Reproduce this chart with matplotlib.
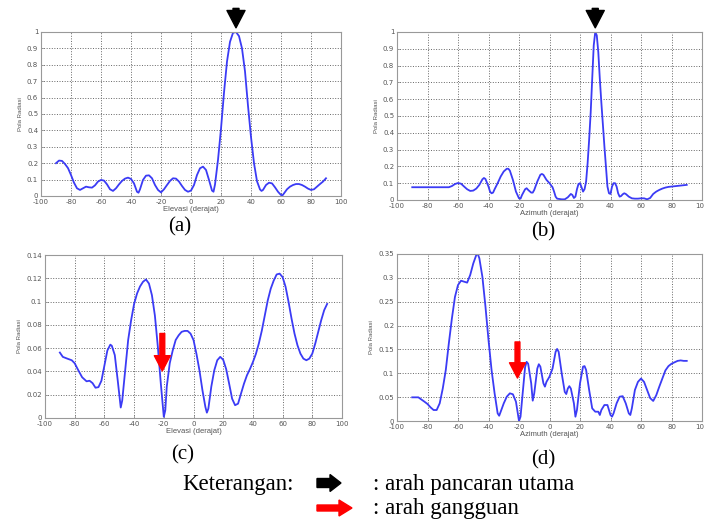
import numpy as np
import matplotlib
matplotlib.use('Agg')
import matplotlib.pyplot as plt
import matplotlib.transforms as mtransforms
from matplotlib.patches import FancyArrow

# Data (degrees, normalised pattern)
elev_a = [-90, -88, -86, -84, -82, -80, -78, -76, -74, -72, -70, -68, -66, -64, -62, -60,
          -58, -56, -54, -52, -50, -48, -46, -44, -42, -40, -38, -36, -35, -34, -32, -30,
          -28, -26, -24, -22, -20, -18, -16, -14, -12, -10, -8, -6, -4, -2, 0, 2, 4, 6,
          8, 10, 12, 14, 15, 16, 18, 20, 22, 24, 26, 28, 30, 32, 34, 36, 38, 40, 42, 44,
          46, 47, 48, 50, 52, 54, 56, 58, 60, 61, 62, 64, 66, 68, 70, 72, 74, 76, 78, 80,
          82, 84, 86, 88, 90]
pola_a = [0.200, 0.216, 0.214, 0.195, 0.170, 0.128, 0.081, 0.047, 0.037, 0.047, 0.057,
          0.053, 0.051, 0.065, 0.088, 0.098, 0.094, 0.071, 0.041, 0.031, 0.047, 0.071,
          0.092, 0.106, 0.112, 0.104, 0.077, 0.026, 0.020, 0.041, 0.098, 0.124, 0.126,
          0.108, 0.067, 0.037, 0.022, 0.041, 0.067, 0.092, 0.108, 0.106, 0.088, 0.061,
          0.037, 0.026, 0.033, 0.067, 0.128, 0.169, 0.179, 0.159, 0.098, 0.033, 0.026,
          0.070, 0.220, 0.410, 0.630, 0.820, 0.940, 0.995, 1.000, 0.975, 0.900, 0.760,
          0.550, 0.360, 0.200, 0.090, 0.040, 0.031, 0.037, 0.067, 0.081, 0.077, 0.053,
          0.026, 0.006, 0.004, 0.016, 0.041, 0.057, 0.067, 0.073, 0.073, 0.067, 0.057,
          0.045, 0.037, 0.041, 0.057, 0.073, 0.088, 0.108]

azim_b = [-90, -66, -64, -62, -60, -58, -56, -54, -52, -50, -48, -46, -44, -43, -42, -40,
          -39, -38, -37, -36, -34, -32, -30, -28, -27, -26, -24, -22, -20, -19, -18, -16,
          -15, -14, -12, -11, -10, -8, -6, -5, -4, -2, 0, 2, 3, 4, 5, 8, 10, 12, 14, 15,
          16, 17, 18, 19, 20, 21, 22, 23, 24, 25, 26, 27, 28, 29, 30, 31, 32, 33, 34, 35,
          36, 37, 38, 39, 40, 41, 42, 43, 44, 45, 46, 47, 48, 49, 50, 52, 54, 56, 58, 60,
          62, 64, 66, 68, 70, 72, 74, 76, 78, 80, 84, 88, 90]
pola_b = [0.076, 0.076, 0.083, 0.095, 0.101, 0.097, 0.080, 0.064, 0.054, 0.056, 0.068,
          0.090, 0.123, 0.131, 0.125, 0.080,
          0.050, 0.040, 0.044, 0.064, 0.100, 0.140, 0.170, 0.186, 0.186, 0.175, 0.120,
          0.050, 0.010, 0.008, 0.030, 0.064,
          0.070, 0.060, 0.044, 0.044, 0.060, 0.110, 0.150, 0.155, 0.150, 0.120, 0.100,
          0.076, 0.050, 0.020, 0.008, 0.004, 0.004, 0.016, 0.036, 0.030,
          0.012, 0.020, 0.064, 0.095, 0.100, 0.076, 0.050, 0.065, 0.110, 0.220, 0.360,
          0.520, 0.720, 0.920, 1.000, 0.980, 0.880, 0.720, 0.580, 0.450,
          0.320, 0.200, 0.080, 0.040, 0.036, 0.080, 0.100, 0.100, 0.080, 0.040, 0.020,
          0.024, 0.034, 0.040, 0.036, 0.020, 0.010, 0.008, 0.008, 0.010,
          0.010, 0.004, 0.012, 0.036, 0.050, 0.060, 0.068, 0.074, 0.078, 0.080, 0.084,
          0.088, 0.090]

elev_c = [-90, -88, -85, -82, -80, -78, -75, -72, -70, -68, -66, -64, -62, -60, -58, -56,
          -55, -53, -51, -49, -48, -46, -44, -42, -40, -38, -36, -34, -32, -30, -28, -26,
          -24, -22, -20, -19, -18, -16, -14, -12, -10, -8, -6, -4, -2, 0, 2, 4, 6, 8, 9,
          10, 12, 14, 16, 18, 20, 22, 24, 26, 28, 30, 32, 34, 36, 38, 40, 42, 44, 46, 48,
          50, 52, 54, 56, 58, 60, 62, 64, 66, 68, 70, 72, 74, 76, 78, 80, 82, 84, 86, 88,
          90]
pola_c = [0.0562, 0.0525, 0.0510, 0.0496, 0.0470, 0.0420, 0.0350, 0.0315, 0.0320, 0.0300,
          0.0260, 0.0265, 0.0320, 0.0450, 0.0580, 0.0630, 0.0620, 0.0540, 0.0320, 0.0090,
          0.0150, 0.0410, 0.0670, 0.0840, 0.0980, 0.1070, 0.1130, 0.1170, 0.1190, 0.1155,
          0.1055, 0.0880, 0.0610, 0.0295, 0.0010, 0.0066, 0.0270, 0.0470, 0.0580, 0.0670,
          0.0710, 0.0740, 0.0748, 0.0748, 0.0725, 0.0670, 0.0550, 0.0410, 0.0240, 0.0095,
          0.0046, 0.0080, 0.0270, 0.0410, 0.0496, 0.0525, 0.0500, 0.0420, 0.0295, 0.0166,
          0.0110, 0.0123, 0.0210, 0.0295, 0.0367, 0.0420, 0.0480, 0.0550, 0.0640, 0.0750,
          0.0880, 0.1010, 0.1110, 0.1180, 0.1233, 0.1240, 0.1210, 0.1127, 0.0998, 0.0855,
          0.0726, 0.0625, 0.0553, 0.0510, 0.0496, 0.0510, 0.0553, 0.0640, 0.0740, 0.0840,
          0.0926, 0.0980]

azim_d = [-90, -86, -84, -82, -80, -78, -76, -74, -72, -70, -68, -66, -64, -62, -60, -58,
          -56, -54, -52, -50, -48, -47, -46, -44, -42, -40, -38, -36, -34, -33, -32, -30,
          -28, -26, -24, -22, -20, -19, -18, -16, -15, -14, -12, -11, -10, -8, -7, -6, -4,
          -3, -2, 0, 2, 4, 5, 6, 8, 10, 11, 12, 13, 14, 16, 17, 18, 20, 22, 23, 24, 26,
          28, 30, 32, 33, 34, 36, 38, 40, 41, 42, 44, 46, 48, 50, 52, 53, 54, 56, 58, 60,
          62, 64, 66, 68, 70, 72, 74, 76, 78, 80, 84, 86, 88, 90]
pola_d = [0.0496, 0.0496, 0.045, 0.0405, 0.0356, 0.0286, 0.023, 0.023, 0.037, 0.068, 0.107,
          0.163, 0.215, 0.260, 0.285, 0.294, 0.292, 0.290, 0.306, 0.330, 0.348, 0.350,
          0.341, 0.302, 0.240, 0.170, 0.107, 0.058, 0.016, 0.011, 0.0195, 0.037, 0.051,
          0.058, 0.056, 0.0405, 0.000, 0.009, 0.044, 0.113, 0.124, 0.120, 0.079, 0.0426,
          0.058, 0.110, 0.119, 0.114, 0.079, 0.072, 0.082, 0.093, 0.110, 0.145, 0.151,
          0.145, 0.100, 0.061, 0.0565, 0.068, 0.073, 0.068, 0.037, 0.009, 0.023, 0.079,
          0.114, 0.115, 0.107, 0.065, 0.0265, 0.0195, 0.0195, 0.0126, 0.023, 0.0335,
          0.0335, 0.0126, 0.009, 0.016, 0.037, 0.051, 0.052, 0.037, 0.016, 0.0126, 0.0265,
          0.065, 0.082, 0.089, 0.082, 0.065, 0.048, 0.042, 0.054, 0.072, 0.089, 0.106,
          0.115, 0.120, 0.126, 0.127, 0.126, 0.126]

arah_gangguan = -21  # arah gangguan yang ditandai di (c) dan (d)

xticks = [-100, -80, -60, -40, -20, 0, 20, 40, 60, 80, 100]
xtick_labels = ['-100', '-80', '-60', '-40', '-20', '0', '20', '40', '60', '80', '100']

plt.rcParams['font.family'] = ['Liberation Sans', 'DejaVu Sans']

fig = plt.figure(figsize=(7.04, 5.2), dpi=100)

W, H = 704.0, 520.0


def make_ax(left, top, right, bottom):
    return fig.add_axes([left / W, 1 - bottom / H, (right - left) / W, (bottom - top) / H])


def style_ax(ax, ymax, ystep, ylabels, xlabel):
    ax.set_xlim(-100, 100)
    ax.set_ylim(0, ymax)
    ax.set_xticks(xticks)
    ax.set_xticklabels(xtick_labels)
    yt = np.arange(len(ylabels)) * ystep
    ax.set_yticks(yt)
    ax.set_yticklabels(ylabels)
    ax.grid(True, linestyle=':', color='#666666', linewidth=0.7)
    ax.tick_params(direction='in', length=2, width=0.5, labelsize=5,
                   labelcolor='#555555', color='#888888', pad=2)
    for lbl in ax.get_xticklabels() + ax.get_yticklabels():
        lbl.set_family('DejaVu Sans')
    for s in ax.spines.values():
        s.set_color('#999999')
        s.set_linewidth(0.8)
    ax.set_xlabel(xlabel, fontsize=5.5, color='#555555', labelpad=1)
    ax.set_ylabel('Pola Radiasi', fontsize=4.3, color='#555555', labelpad=3)


ax_a = make_ax(41, 32, 341, 196)
ax_b = make_ax(397, 32, 702, 200)
ax_c = make_ax(45, 255, 342, 418)
ax_d = make_ax(397, 254, 702, 421)

blue = '#3b3bf5'
ax_a.plot(elev_a, pola_a, color=blue, lw=1.3)
ax_b.plot(azim_b, pola_b, color=blue, lw=1.3)
ax_c.plot(elev_c, pola_c, color=blue, lw=1.3)
ax_d.plot(azim_d, pola_d, color=blue, lw=1.3)

lab1 = ['0', '0.1', '0.2', '0.3', '0.4', '0.5', '0.6', '0.7', '0.8', '0.9', '1']
style_ax(ax_a, 1.0, 0.1, lab1, 'Elevasi (derajat)')
style_ax(ax_b, 1.0, 0.1, lab1, 'Azimuth (derajat)')
style_ax(ax_c, 0.14, 0.02, ['0', '0.02', '0.04', '0.06', '0.08', '0.1', '0.12', '0.14'],
         'Elevasi (derajat)')
style_ax(ax_d, 0.35, 0.05, ['0', '0.05', '0.1', '0.15', '0.2', '0.25', '0.3', '0.35'],
         'Azimuth (derajat)')

# panah hitam di atas berkas utama
for ax, xs, ys in [(ax_a, elev_a, pola_a), (ax_b, azim_b, pola_b)]:
    i = int(np.argmax(ys))
    tr = mtransforms.offset_copy(ax.transData, fig=fig, x=0, y=3, units='points')
    ax.annotate('', xy=(xs[i], ys[i]), xycoords=tr, xytext=(0, 14),
                textcoords='offset points', annotation_clip=False,
                arrowprops=dict(width=4.3, headwidth=13, headlength=12.5,
                                facecolor='black', edgecolor='black', shrink=0))

# panah merah pada arah gangguan
for ax, tip, L in [(ax_c, 0.0404, 27), (ax_d, 0.090, 26)]:
    ax.annotate('', xy=(arah_gangguan, tip), xytext=(0, L),
                textcoords='offset points', annotation_clip=False,
                arrowprops=dict(width=3.5, headwidth=11.5, headlength=11,
                                facecolor='red', edgecolor='red', shrink=0))

# label (a)-(d) dan keterangan, koordinat piksel
ov = fig.add_axes([0, 0, 1, 1])
ov.set_xlim(0, W)
ov.set_ylim(H, 0)
ov.axis('off')
ov.patch.set_alpha(0)

serif = ['Liberation Serif', 'DejaVu Serif']
for txt, x, y in [('(a)', 180, 227), ('(b)', 543, 232), ('(c)', 183, 455), ('(d)', 543, 460)]:
    ov.text(x, y, txt, family=serif, fontsize=15, ha='center', va='center')

ov.text(182, 490, 'Keterangan:', family=serif, fontsize=16.5, ha='left', va='baseline')
ov.text(373, 490, ': arah pancaran utama', family=serif, fontsize=16.5, ha='left',
        va='baseline')
ov.text(373, 514, ': arah gangguan', family=serif, fontsize=16.5, ha='left', va='baseline')

ov.add_patch(FancyArrow(317, 483, 24, 0, width=9, head_width=17, head_length=11,
                        length_includes_head=True, color='black'))
ov.add_patch(FancyArrow(317, 508, 35, 0, width=6, head_width=16, head_length=13,
                        length_includes_head=True, color='red'))

fig.savefig('out.png', dpi=100)
